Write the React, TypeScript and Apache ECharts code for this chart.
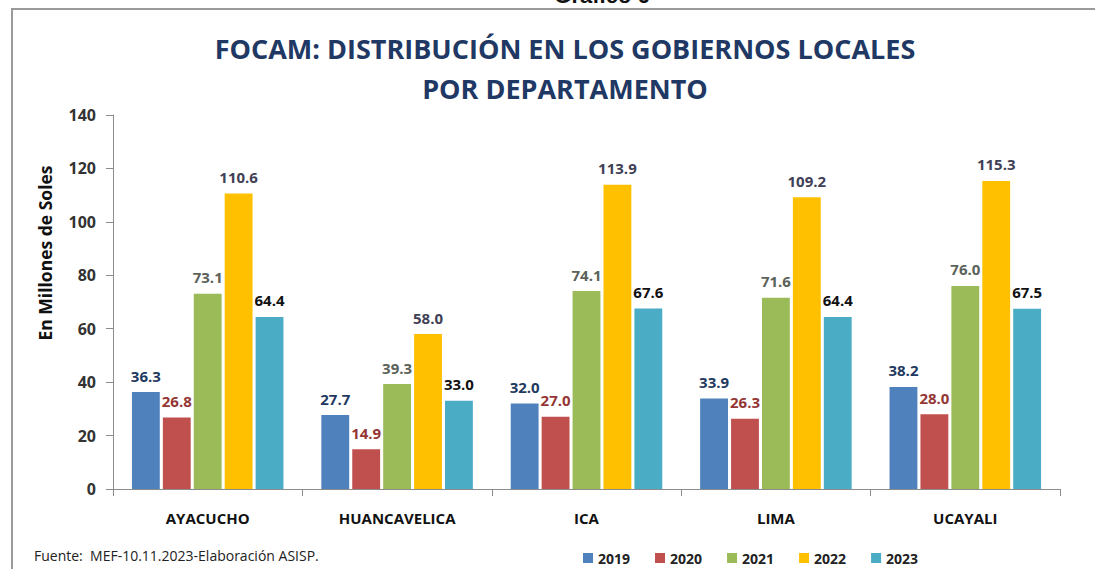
import React, { useEffect, useRef } from "react";
import * as echarts from "echarts";

const categories = ["AYACUCHO", "HUANCAVELICA", "ICA", "LIMA", "UCAYALI"];
const years = ["2019", "2020", "2021", "2022", "2023"];
const v2019 = [36.3, 27.7, 32.0, 33.9, 38.2];
const v2020 = [26.8, 14.9, 27.0, 26.3, 28.0];
const v2021 = [73.1, 39.3, 74.1, 71.6, 76.0];
const v2022 = [110.6, 58.0, 113.9, 109.2, 115.3];
const v2023 = [64.4, 33.0, 67.6, 64.4, 67.5];
const yTicks = [0, 20, 40, 60, 80, 100, 120, 140];

const seriesValues = [v2019, v2020, v2021, v2022, v2023];
const barColors = ["#4F81BD", "#C0504D", "#9BBB59", "#FFC000", "#4BACC6"];
const labelColors = ["#1F3A60", "#943634", "#5B625A", "#3F3F55", "#111111"];

const FONT = "'Open Sans', 'Noto Sans', sans-serif";

export default function App() {
  const ref = useRef<HTMLDivElement>(null);
  useEffect(() => {
    if (!ref.current) return;
    const chart = echarts.init(ref.current, null, { renderer: "svg" });
    chart.setOption({
      animation: false,
      backgroundColor: "#ffffff",
      textStyle: { fontFamily: FONT },
      title: {
        text: "FOCAM: DISTRIBUCIÓN EN LOS GOBIERNOS LOCALES\nPOR DEPARTAMENTO",
        left: 560,
        top: 23,
        textAlign: "center",
        textStyle: {
          color: "#1F3864",
          fontSize: 27,
          fontWeight: "bold",
          lineHeight: 40,
          fontFamily: FONT,
        },
      },
      legend: {
        data: years,
        left: 578,
        top: 546,
        itemWidth: 10,
        itemHeight: 10,
        itemGap: 25,
        icon: "rect",
        textStyle: { color: "#222", fontSize: 14, fontWeight: "bold", fontFamily: FONT },
      },
      grid: { left: 113, right: 35, top: 115, bottom: 80 },
      xAxis: {
        type: "category",
        data: categories,
        axisLine: { lineStyle: { color: "#8c8c8c" } },
        axisTick: { show: true, length: 7, lineStyle: { color: "#8c8c8c" } },
        axisLabel: { color: "#111", fontSize: 15, fontWeight: "bold", margin: 21, fontFamily: FONT },
      },
      yAxis: {
        type: "value",
        min: 0,
        max: 140,
        interval: 20,
        splitLine: { show: false },
        axisLine: { show: true, lineStyle: { color: "#8c8c8c" } },
        axisTick: { show: true, length: 7, lineStyle: { color: "#8c8c8c" } },
        axisLabel: {
          color: "#333",
          fontSize: 16,
          fontWeight: "bold",
          margin: 17,
          fontFamily: FONT,
          formatter: (v: number) => (yTicks.includes(v) ? String(v) : ""),
        },
      },
      graphic: [
        {
          type: "rect",
          shape: { x: 12, y: 9, width: 1200, height: 700 },
          style: { fill: "none", stroke: "#9a9a9a", lineWidth: 2 },
          silent: true,
        },
        {
          type: "text",
          x: 602,
          y: 6,
          style: {
            text: "Gráfico 6",
            font: "bold 22px 'Liberation Sans', sans-serif",
            fill: "#111",
            textAlign: "center",
            textVerticalAlign: "bottom",
          },
        },
        {
          type: "text",
          x: 45,
          y: 253,
          rotation: Math.PI / 2,
          style: {
            text: "En Millones de Soles",
            font: `bold 17.5px ${FONT}`,
            fill: "#111",
            textAlign: "center",
            textVerticalAlign: "middle",
          },
        },
        {
          type: "text",
          x: 34,
          y: 555,
          style: {
            text: "Fuente:  MEF-10.11.2023-Elaboración ASISP.",
            font: `14px ${FONT}`,
            fill: "#222",
            textAlign: "left",
            textVerticalAlign: "middle",
          },
        },
      ],
      series: years.map((y, i) => ({
        name: y,
        type: "bar",
        data: seriesValues[i],
        barGap: "11%",
        barCategoryGap: "20%",
        itemStyle: { color: barColors[i] },
        label: {
          show: true,
          position: "top",
          distance: 9,
          color: labelColors[i],
          fontSize: 15,
          fontWeight: "bold",
          fontFamily: FONT,
          formatter: (p: any) => Number(p.value).toFixed(1),
        },
      })),
    });
    return () => chart.dispose();
  }, []);
  return (
    <div
      ref={ref}
      style={{ position: "absolute", left: 0, top: 0, width: 1095, height: 569 }}
    />
  );
}
